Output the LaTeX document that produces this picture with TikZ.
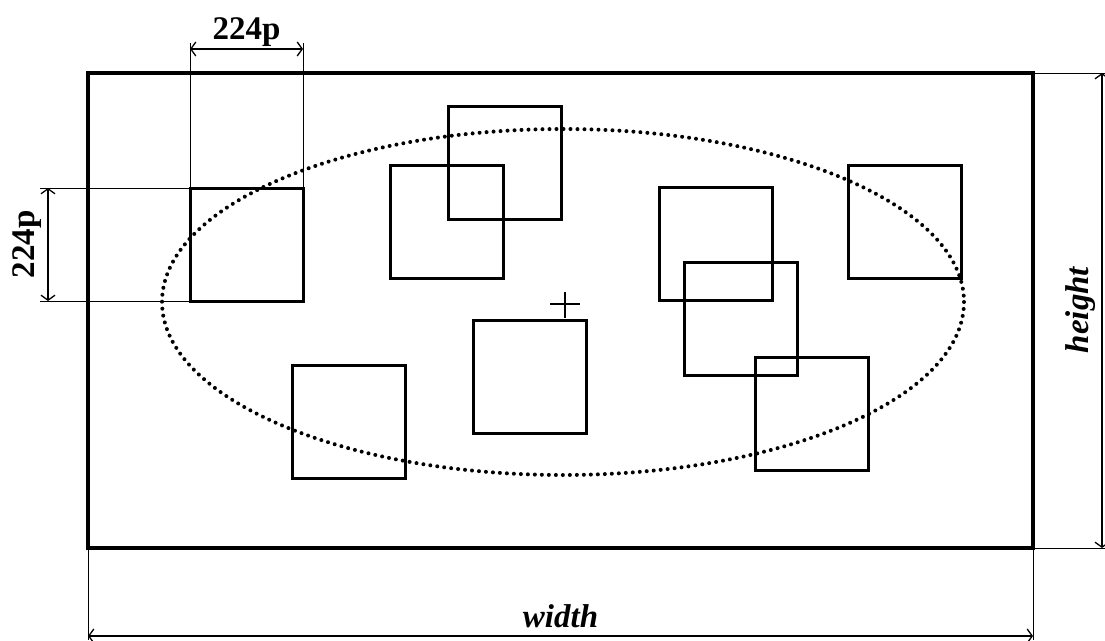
\documentclass[tikz,border=0pt]{standalone}
\usepackage{fontspec}
\setmainfont{Liberation Serif}
\usetikzlibrary{arrows.meta}
\tikzset{
	frame/.style={draw, line width=4.5pt},
	patch/.style={draw, line width=3pt},
	extline/.style={draw, line width=1pt},
	dimline/.style={{Straight Barb[length=5pt, width=14pt]}-{Straight Barb[length=5pt, width=14pt]}, line width=1.3pt},
	region/.style={draw, line width=4pt, line cap=round, dash pattern=on 0pt off 7pt},
	dimlabel/.style={font=\fontsize{33}{36}\selectfont\bfseries}
}

\begin{document}
\begin{tikzpicture}[x=1pt, y=-1pt]
		\useasboundingbox (0, 0) rectangle (1105, 640);

		% image frame
		\draw[frame] (88, 73) rectangle (1033, 548);

		% sampling region
		\draw[region] (563, 302) ellipse [x radius=401, y radius=173];
		\draw[line width=1.2pt] (550, 304) -- (580, 304) (565, 292) -- (565, 318);

		% patches
		\foreach \px/\py in {190/188, 448/106, 390/165, 659/187, 848/165,
				684/262, 473/320, 292/365, 755/357}
			\draw[patch] (\px, \py) rectangle ++(113, 113);

		% patch size
		\draw[extline] (190, 43) -- (190, 188) (303, 43) -- (303, 188);
		\draw[dimline] (190, 49) to node[above=-2pt, dimlabel]{224p} (303, 49);
		\draw[extline] (40, 188) -- (190, 188) (40, 301) -- (190, 301);
		\draw[dimline] (48, 188) to node[above=-2pt, sloped, dimlabel, rotate=180]{224p} (48, 301);

		% image size
		\draw[extline] (88, 548) -- (88, 640) (1033, 548) -- (1033, 640);
		\draw[dimline] (88, 636) to node[above=4pt, dimlabel, font=\fontsize{33}{36}\selectfont\bfseries\itshape]{width} (1033, 636);
		\draw[extline] (1033, 73) -- (1105, 73) (1033, 548) -- (1105, 548);
		\draw[dimline] (1102, 73) -- (1102, 548);
		\node[dimlabel, font=\fontsize{33}{36}\selectfont\bfseries\itshape, rotate=90] at (1081, 310) {height};
	\end{tikzpicture}
\end{document}
